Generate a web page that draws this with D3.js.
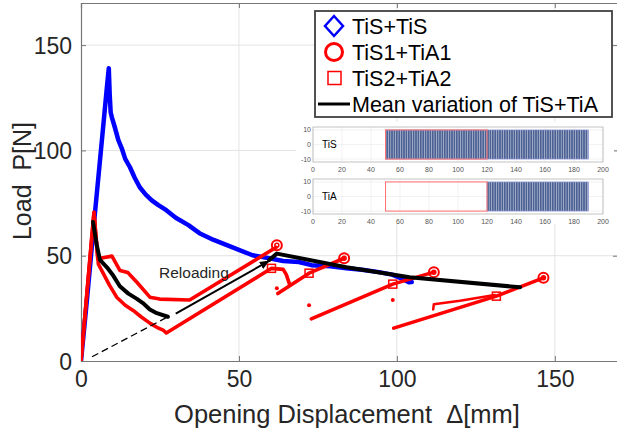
<!DOCTYPE html>
<html>
<head>
<meta charset="utf-8">
<script src="https://cdn.jsdelivr.net/npm/d3@7"></script>
<style>
  body { margin: 0; background: #fff; }
  svg { display: block; font-family: "Liberation Sans", Arial, sans-serif; }
  text { white-space: pre; }
</style>
</head>
<body>
<div id="chart"></div>
<script>
// ---- data ----
var xTicks = [0, 50, 100, 150];
var yTicks = [0, 50, 100, 150];

var tisTis = [[0, 0], [2, 31], [4.4, 70], [6.5, 103], [8.2, 130], [8.8, 139], [9.1, 126], [9.4, 118], [9.8, 115.6],
    [10.7, 111], [11.8, 105], [12.9, 101], [14, 96], [15.5, 92], [17, 87], [18.6, 82.5], [20.5, 79], [22.4, 76.3],
    [24.5, 74], [27, 71.6], [30, 68], [34, 64.5], [37.5, 60.7], [42, 57.5], [48, 54], [54.3, 50.2], [59.6, 48.8],
    [64, 47.5], [69, 47], [73, 45.5], [79, 45], [84, 44], [89, 43.3], [94.3, 42.2], [98.5, 41], [101, 39.5],
    [103.8, 37.4], [104.7, 37.5]];

// first loading + first reload, circle specimen
var tis1Tia1 = [[0, 0], [4.1, 70.6], [5.3, 48.5], [7, 49], [9.8, 49.8], [12.3, 43], [14.8, 42], [17.7, 37.4],
    [21.8, 30.3], [24.9, 29.4], [34.4, 29], [61.8, 54]];
// first loading + first reload, square specimen
var tis2Tia2 = [[0, 0], [4.1, 70.6], [5.5, 46], [7, 41.7], [9, 36], [11.3, 30.3], [14, 26.5], [16.5, 24],
    [19, 21], [21.8, 18], [24, 16], [26, 14.7], [27, 13.3], [60.3, 44], [64, 43.5], [65, 41], [66, 36.5]];

// later reloading cycles
var reloads = [
    [[62.3, 32], [72.2, 41.7], [83.3, 48.8]],
    [[72.9, 20], [98.7, 36.5], [111.7, 42.2]],
    [[99, 15.6], [131.5, 30.8], [146.4, 39.5]],
    [[111.5, 24.5], [111.7, 27], [120, 28.6], [131, 31.3]]
];
var stray = [[62, 34.6], [72.2, 26.5], [98.7, 29]];

var circlePts = [[62, 55], [83.3, 48.8], [111.7, 42.2], [146.4, 39.5]];
var squarePts = [[60.3, 44], [72.2, 41.7], [98.7, 36.5], [131.5, 30.8]];

var meanPre = [[3.8, 66], [5, 55], [6, 48], [8.2, 44.5], [10, 41], [12.3, 35.5], [15, 32], [17.7, 29.5],
    [19.6, 27.5], [21.8, 24.5], [24, 22.7], [27.5, 21]];
var meanPost = [[59.6, 48], [62, 51], [84, 44.5], [104, 39.8], [139, 35]];
var reloadDash = [[3.5, 2], [27.5, 21]];
var reloadArrow = [[30, 22.5], [59.5, 47.5]];

var legendNames = ['TiS+TiS', 'TiS1+TiA1', 'TiS2+TiA2', 'Mean variation of TiS+TiA'];

// inset strip charts
var insetTicksX = [0, 20, 40, 60, 80, 100, 120, 140, 160, 180, 200];
var insetTicksY = [10, 0, -10];
var insetRows = [
    {name: 'TiS', box: [50, 120], band: [50, 190]},
    {name: 'TiA', box: [50, 120], band: [120, 190]}
];

// ---- drawing ----
var W = 617, H = 430;
var svg = d3.select('#chart').append('svg').attr('width', W).attr('height', H);

var x = d3.scaleLinear().domain([0, 170]).range([81, 618]);
var y = d3.scaleLinear().domain([0, 170]).range([361, 3]);

svg.append('defs').append('clipPath').attr('id', 'clip')
    .append('rect').attr('x', 81).attr('y', 3).attr('width', 537).attr('height', 358);

// grid
var grid = svg.append('g');
grid.selectAll('.gx').data(xTicks.slice(1)).enter().append('line')
    .attr('x1', x).attr('x2', x).attr('y1', y(0)).attr('y2', y(170))
    .attr('stroke', '#e3e3e3').attr('stroke-width', 1);
grid.selectAll('.gy').data(yTicks.slice(1)).enter().append('line')
    .attr('y1', y).attr('y2', y).attr('x1', x(0)).attr('x2', x(170))
    .attr('stroke', '#e3e3e3').attr('stroke-width', 1);

// axes
var ax = svg.append('g').attr('transform', 'translate(0,' + y(0) + ')')
    .call(d3.axisBottom(x).tickValues(xTicks).tickSize(-5).tickPadding(10));
var axTop = svg.append('g').attr('transform', 'translate(0,' + y(170) + ')')
    .call(d3.axisTop(x).tickValues(xTicks).tickSize(-5).tickFormat(''));
var ay = svg.append('g').attr('transform', 'translate(' + x(0) + ',0)')
    .call(d3.axisLeft(y).tickValues(yTicks).tickSize(-5).tickPadding(9));
var ayR = svg.append('g').attr('transform', 'translate(' + x(170) + ',0)')
    .call(d3.axisRight(y).tickValues(yTicks).tickSize(-5).tickFormat(''));
[ax, axTop, ay, ayR].forEach(function(g) {
    g.select('.domain').attr('stroke', '#777').attr('stroke-width', 1.2);
    g.selectAll('.tick line').attr('stroke', '#777');
    g.selectAll('.tick text').attr('fill', '#262626')
        .style('font-size', '23px').style('font-family', '"Liberation Sans", Arial, sans-serif');
});
ay.selectAll('.tick text').attr('dy', '0.36em');

svg.append('text').attr('x', 347).attr('y', 423).attr('text-anchor', 'middle')
    .attr('fill', '#262626').style('font-size', '25.5px')
    .text('Opening Displacement  \u0394[mm]');
svg.append('text').attr('transform', 'translate(31,181) rotate(-90)').attr('text-anchor', 'middle')
    .attr('fill', '#262626').style('font-size', '25px')
    .text('Load  P[N]');

// data
var line = d3.line().x(function(d) { return x(d[0]); }).y(function(d) { return y(d[1]); });
var plot = svg.append('g').attr('clip-path', 'url(#clip)');

plot.append('path').datum(tisTis).attr('d', line)
    .attr('fill', 'none').attr('stroke', '#0000ff').attr('stroke-width', 4.5)
    .attr('stroke-linejoin', 'round').attr('stroke-linecap', 'round');

[tis1Tia1, tis2Tia2].concat(reloads).forEach(function(s, i) {
    plot.append('path').datum(s).attr('d', line)
        .attr('fill', 'none').attr('stroke', '#ff0000').attr('stroke-width', i == 5 ? 2.5 : 3.6)
        .attr('stroke-linejoin', 'round').attr('stroke-linecap', 'round');
});
plot.selectAll('.stray').data(stray).enter().append('circle')
    .attr('cx', function(d) { return x(d[0]); }).attr('cy', function(d) { return y(d[1]); })
    .attr('r', 2).attr('fill', '#ff0000');

plot.selectAll('.circ').data(circlePts).enter().append('g')
    .attr('transform', function(d) { return 'translate(' + x(d[0]) + ',' + y(d[1]) + ')'; })
    .each(function() {
        d3.select(this).append('circle').attr('r', 5).attr('fill', 'none').attr('stroke', '#ff0000').attr('stroke-width', 2);
        d3.select(this).append('circle').attr('r', 2).attr('fill', 'none').attr('stroke', '#ff0000').attr('stroke-width', 1.5);
    });
plot.selectAll('.sq').data(squarePts).enter().append('rect')
    .attr('x', function(d) { return x(d[0]) - 4; }).attr('y', function(d) { return y(d[1]) - 4; })
    .attr('width', 8).attr('height', 8)
    .attr('fill', 'none').attr('stroke', '#ff0000').attr('stroke-width', 1.5);

[meanPre, meanPost].forEach(function(s) {
    plot.append('path').datum(s).attr('d', line)
        .attr('fill', 'none').attr('stroke', '#000').attr('stroke-width', 4)
        .attr('stroke-linejoin', 'round').attr('stroke-linecap', 'round');
});

plot.append('path').datum(reloadDash).attr('d', line)
    .attr('fill', 'none').attr('stroke', '#000').attr('stroke-width', 1.3).attr('stroke-dasharray', '7,4');

svg.select('defs').append('marker').attr('id', 'arrow')
    .attr('viewBox', '0 0 10 10').attr('refX', 9).attr('refY', 5)
    .attr('markerWidth', 5).attr('markerHeight', 5).attr('orient', 'auto')
    .append('path').attr('d', 'M0,1L10,5L0,9Z').attr('fill', '#000');
plot.append('path').datum(reloadArrow).attr('d', line)
    .attr('fill', 'none').attr('stroke', '#000').attr('stroke-width', 2)
    .attr('marker-end', 'url(#arrow)');

svg.append('text').attr('x', 159).attr('y', 278).attr('fill', '#262626')
    .style('font-size', '15.5px').text('Reloading');

// legend
var lg = svg.append('g');
lg.append('rect').attr('x', 315).attr('y', 11).attr('width', 297).attr('height', 106)
    .attr('fill', '#fff').attr('stroke', '#404040').attr('stroke-width', 1.8);
var ly = [26, 52, 78, 104];
legendNames.forEach(function(name, i) {
    lg.append('text').attr('x', 352).attr('y', ly[i]).attr('dy', '0.36em')
        .attr('fill', '#000').style('font-size', '21.5px').text(name);
});
lg.append('path').attr('d', 'M334,' + (ly[0] - 10) + 'L343,' + ly[0] + 'L334,' + (ly[0] + 10) + 'L325,' + ly[0] + 'Z')
    .attr('fill', 'none').attr('stroke', '#0000ff').attr('stroke-width', 2.5);
lg.append('circle').attr('cx', 334).attr('cy', ly[1]).attr('r', 8.5)
    .attr('fill', 'none').attr('stroke', '#ff0000').attr('stroke-width', 3);
lg.append('rect').attr('x', 328).attr('y', ly[2] - 6.5).attr('width', 13).attr('height', 13)
    .attr('fill', 'none').attr('stroke', '#ff0000').attr('stroke-width', 1.5);
lg.append('line').attr('x1', 318).attr('x2', 350).attr('y1', ly[3]).attr('y2', ly[3])
    .attr('stroke', '#000').attr('stroke-width', 3);

// inset strips
svg.append('rect').attr('x', 296).attr('y', 122).attr('width', 318).attr('height', 102).attr('fill', '#fff');
var defs = svg.select('defs');
var pat = defs.append('pattern').attr('id', 'stripes').attr('patternUnits', 'userSpaceOnUse')
    .attr('width', 2.4).attr('height', 10);
pat.append('rect').attr('width', 2.4).attr('height', 10).attr('fill', '#4d6294');
pat.append('rect').attr('x', 1.8).attr('width', 0.6).attr('height', 10).attr('fill', '#c8cfe0');

var ix = d3.scaleLinear().domain([0, 200]).range([313, 603]);
var insetTops = [127, 179];
insetRows.forEach(function(row, i) {
    var iy = d3.scaleLinear().domain([-12, 12]).range([insetTops[i] + 35, insetTops[i]]);
    var g = svg.append('g');
    g.selectAll('.igx').data(insetTicksX).enter().append('line')
        .attr('x1', ix).attr('x2', ix).attr('y1', iy(-12)).attr('y2', iy(12))
        .attr('stroke', '#ececec').attr('stroke-width', 0.7);
    g.selectAll('.igy').data(insetTicksY).enter().append('line')
        .attr('y1', iy).attr('y2', iy).attr('x1', ix(0)).attr('x2', ix(200))
        .attr('stroke', '#ececec').attr('stroke-width', 0.7);
    g.append('rect').attr('x', ix(row.band[0])).attr('y', iy(10))
        .attr('width', ix(row.band[1]) - ix(row.band[0])).attr('height', iy(-10) - iy(10))
        .attr('fill', 'url(#stripes)').attr('stroke', '#9aa4e6').attr('stroke-width', 0.6);
    g.append('rect').attr('x', ix(row.box[0])).attr('y', iy(10))
        .attr('width', ix(row.box[1]) - ix(row.box[0])).attr('height', iy(-10) - iy(10))
        .attr('fill', 'none').attr('stroke', '#ff7070').attr('stroke-width', 1);
    g.append('rect').attr('x', ix(0)).attr('y', iy(12))
        .attr('width', ix(200) - ix(0)).attr('height', iy(-12) - iy(12))
        .attr('fill', 'none').attr('stroke', '#b5b5b5').attr('stroke-width', 0.8);
    g.selectAll('.itx').data(insetTicksX).enter().append('text')
        .attr('x', ix).attr('y', iy(-12) + 10).attr('text-anchor', 'middle')
        .attr('fill', '#555').style('font-size', '7px').text(function(d) { return d; });
    g.selectAll('.ity').data(insetTicksY).enter().append('text')
        .attr('x', ix(0) - 2).attr('y', iy).attr('dy', '0.35em').attr('text-anchor', 'end')
        .attr('fill', '#555').style('font-size', '7px').text(function(d) { return d; });
    g.append('text').attr('x', 322).attr('y', iy(0)).attr('dy', '0.36em')
        .attr('fill', '#000').style('font-size', '10px').text(row.name);
});
</script>
</body>
</html>
